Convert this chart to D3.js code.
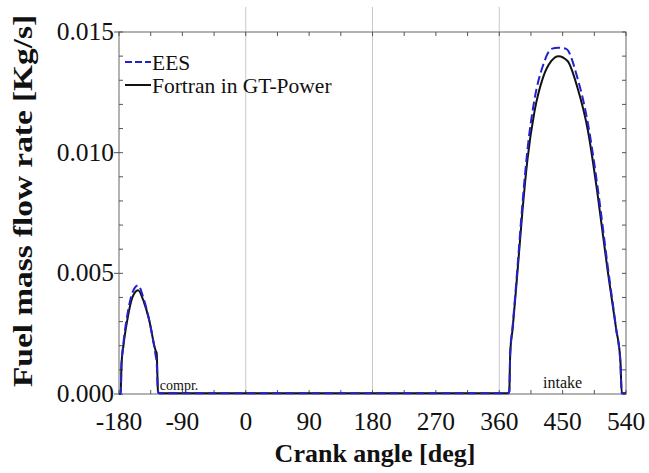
<!DOCTYPE html>
<html><head><meta charset="utf-8">
<script src="https://cdn.jsdelivr.net/npm/d3@7"></script>
<style>body{margin:0;background:#fff}svg{display:block}</style>
</head><body>
<svg id="c" width="649" height="473"></svg>
<script>
// ---- data ----
const xTicks = [-180, -90, 0, 90, 180, 270, 360, 450, 540];
const yTicks = [0, 0.005, 0.010, 0.015];
const yTickLabels = ["0.000", "0.005", "0.010", "0.015"];
const gridAngles = [0, 180, 360];
const seriesNames = ["EES", "Fortran in GT-Power"];

const eesAngle = [-180, -177.6, -176.5, -173.7, -168, -161, -153, -144.5, -137.4, -128, -126.5, -124.6, -123,
  373, 374.2, 375.6, 379, 386, 393, 400, 410, 422, 434, 444, 455, 471, 486, 500, 514, 526, 532, 534, 540];
const eesFlow = [0, 0, 0.0012, 0.0021, 0.0033, 0.0042, 0.0045, 0.0039, 0.0031, 0.0016, 0.0013, 0.0001, 0.00003,
  0.00003, 0.0001, 0.0017, 0.0028, 0.0053, 0.0079, 0.0101, 0.0122, 0.0136, 0.0143, 0.01435, 0.0143, 0.0131, 0.0112, 0.0085, 0.0053, 0.0027, 0.0013, 0.00003, 0.00003];

const gtAngle = [-180, -177.6, -176.5, -173.7, -168, -161, -153, -144.5, -137.4, -128, -126.5, -124.6, -123,
  373, 374.2, 375.6, 379, 386, 393, 400, 410, 422, 434, 444, 457, 471, 486, 500, 514, 526, 532, 534, 540];
const gtFlow = [0, 0, 0.0012, 0.0020, 0.0031, 0.0040, 0.0043, 0.0038, 0.0031, 0.0018, 0.0017, 0.0001, 0.00003,
  0.00003, 0.0001, 0.0017, 0.0027, 0.0051, 0.0076, 0.0097, 0.0117, 0.0131, 0.0138, 0.0140, 0.0138, 0.0127, 0.0109, 0.0082, 0.0051, 0.0027, 0.0014, 0.00003, 0.00003];

// ---- layout ----
const L = 119, R = 626, T = 32, B = 394;
const svg = d3.select("#c");
const x = d3.scaleLinear().domain([-180, 540]).range([L, R]);
const y = d3.scaleLinear().domain([0, 0.015]).range([B, T]);
const serif = "'Liberation Serif','Times New Roman',serif";

// grid lines (extend above frame)
svg.selectAll(".grid").data(gridAngles).enter().append("line")
  .attr("x1", d => x(d)).attr("x2", d => x(d)).attr("y1", 7).attr("y2", B)
  .attr("stroke", "#c8c8c8").attr("stroke-width", 1);

// frame
svg.append("rect").attr("x", L).attr("y", T).attr("width", R - L).attr("height", B - T)
  .attr("fill", "none").attr("stroke", "#666").attr("stroke-width", 1);

// minor ticks
const minorX = d3.range(-180, 541, 45);
const minorY = d3.range(0, 0.01501, 0.001);
const tk = svg.append("g").attr("stroke", "#555").attr("stroke-width", 1);
minorX.forEach(v => {
  tk.append("line").attr("x1", x(v)).attr("x2", x(v)).attr("y1", B).attr("y2", B - 4);
  tk.append("line").attr("x1", x(v)).attr("x2", x(v)).attr("y1", T).attr("y2", T + 4);
});
minorY.forEach(v => {
  tk.append("line").attr("x1", L).attr("x2", L + 4).attr("y1", y(v)).attr("y2", y(v));
  tk.append("line").attr("x1", R).attr("x2", R - 4).attr("y1", y(v)).attr("y2", y(v));
});
yTicks.forEach(v => {
  tk.append("line").attr("x1", L - 5).attr("x2", L).attr("y1", y(v)).attr("y2", y(v));
});

// tick labels
svg.selectAll(".xl").data(xTicks).enter().append("text")
  .attr("x", d => x(d)).attr("y", B + 36).attr("text-anchor", "middle")
  .attr("font-family", serif).attr("font-size", 25.5).attr("fill", "#111").text(d => d);
svg.selectAll(".yl").data(yTicks).enter().append("text")
  .attr("x", L - 5).attr("y", d => y(d) + 8).attr("text-anchor", "end")
  .attr("font-family", serif).attr("font-size", 25.5).attr("fill", "#111").text((d, i) => yTickLabels[i]);

// axis titles
svg.append("text").attr("x", 375).attr("y", 462).attr("text-anchor", "middle")
  .attr("font-family", serif).attr("font-weight", "bold").attr("font-size", 26).attr("fill", "#111")
  .text("Crank angle [deg]");
svg.append("text").attr("transform", "translate(32,201) rotate(-90)").attr("text-anchor", "middle")
  .attr("font-family", serif).attr("font-weight", "bold").attr("font-size", 28).attr("fill", "#111")
  .attr("textLength", 372).attr("lengthAdjust", "spacingAndGlyphs")
  .text("Fuel mass flow rate [Kg/s]");

// annotations
svg.append("text").attr("x", x(-122)).attr("y", B - 4).attr("font-family", serif).attr("font-size", 14).attr("fill", "#111").text("compr.");
svg.append("text").attr("x", x(450)).attr("y", B - 6).attr("text-anchor", "middle").attr("font-family", serif).attr("font-size", 16).attr("fill", "#111").text("intake");

// lines
const line = d3.line().x(d => x(d[0])).y(d => y(d[1])).curve(d3.curveMonotoneX);
const ees = eesAngle.map((a, i) => [a, eesFlow[i]]);
const gt = gtAngle.map((a, i) => [a, gtFlow[i]]);
svg.append("path").attr("d", line(gt)).attr("fill", "none").attr("stroke", "#111").attr("stroke-width", 2);
svg.append("path").attr("d", line(ees)).attr("fill", "none").attr("stroke", "#2222cc").attr("stroke-width", 2).attr("stroke-dasharray", "9,4");

// legend
const lg = svg.append("g");
lg.append("line").attr("x1", 125).attr("x2", 151).attr("y1", 62).attr("y2", 62).attr("stroke", "#2222cc").attr("stroke-width", 2).attr("stroke-dasharray", "7,3");
lg.append("text").attr("x", 152).attr("y", 69.5).attr("font-family", serif).attr("font-size", 21.5).attr("fill", "#111").text(seriesNames[0]);
lg.append("line").attr("x1", 125).attr("x2", 151).attr("y1", 85).attr("y2", 85).attr("stroke", "#111").attr("stroke-width", 2);
lg.append("text").attr("x", 152).attr("y", 92.5).attr("font-family", serif).attr("font-size", 21.5).attr("fill", "#111").text(seriesNames[1]);
</script>
</body></html>
